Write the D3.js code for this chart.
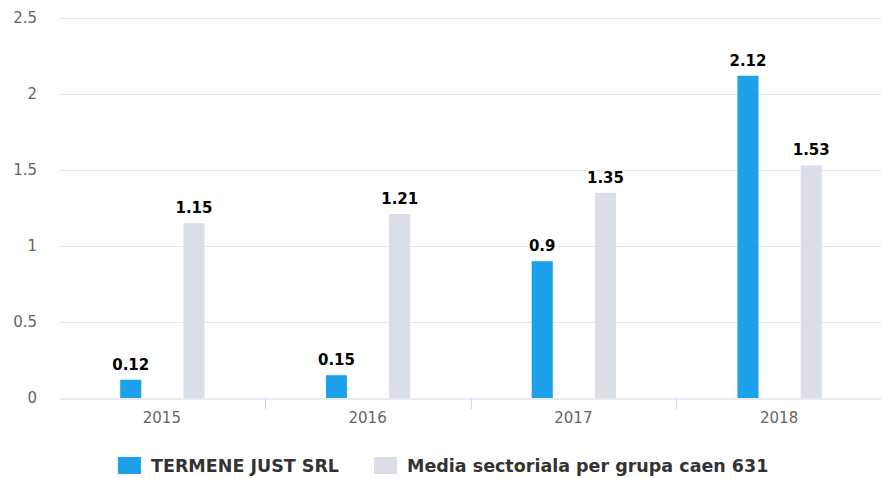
<!DOCTYPE html>
<html>
<head>
<meta charset="utf-8">
<script src="https://cdn.jsdelivr.net/npm/d3@7"></script>
<style>
  body { margin: 0; background: #fff; }
  text { font-family: "DejaVu Sans", sans-serif; }
</style>
</head>
<body>
<div id="chart"></div>
<script>
const years = ["2015", "2016", "2017", "2018"];
const seriesNames = ["TERMENE JUST SRL", "Media sectoriala per grupa caen 631"];
const companyValues = [0.12, 0.15, 0.9, 2.12];
const sectorValues = [1.15, 1.21, 1.35, 1.53];
const yTicks = [0, 0.5, 1, 1.5, 2, 2.5];
const colors = ["#1ca1ea", "#d9dee7"];

const width = 881, height = 478;
const plotLeft = 59, plotRight = 882, plotTop = 18, plotBottom = 398;

const svg = d3.select("#chart").append("svg")
  .attr("width", width)
  .attr("height", height);

const y = d3.scaleLinear().domain([0, 2.5]).range([plotBottom, plotTop]);
const x = d3.scaleBand().domain(years).range([plotLeft, plotRight]).padding(0);

// band for the two series inside one year, 21px bars ~63px apart
const x1 = d3.scaleBand().domain(seriesNames)
  .range([61.2, 145.5]).paddingInner(2 / 3).paddingOuter(0);

// grid lines
svg.append("g")
  .selectAll("line")
  .data(yTicks.filter(d => d > 0))
  .enter().append("line")
  .attr("x1", plotLeft).attr("x2", plotRight)
  .attr("y1", d => Math.round(y(d)) + 0.5)
  .attr("y2", d => Math.round(y(d)) + 0.5)
  .attr("stroke", "#e6e6e6");

// y axis labels
svg.append("g")
  .selectAll("text")
  .data(yTicks)
  .enter().append("text")
  .attr("x", 37)
  .attr("y", d => y(d) + 5)
  .attr("text-anchor", "end")
  .attr("fill", "#666")
  .style("font-size", "15px")
  .text(d => d);

// x axis
const xAxis = svg.append("g")
  .attr("transform", "translate(0," + (plotBottom + 0.5) + ")")
  .call(d3.axisBottom(x).tickSize(0).tickPadding(14));
xAxis.select(".domain").attr("stroke", "#ccd6eb");
xAxis.selectAll("text")
  .attr("fill", "#666")
  .style("font-size", "15px")
  .style("font-family", "DejaVu Sans, sans-serif");

// category separator ticks
svg.append("g")
  .selectAll("line")
  .data(years.slice(1))
  .enter().append("line")
  .attr("x1", d => Math.round(x(d)) + 0.5)
  .attr("x2", d => Math.round(x(d)) + 0.5)
  .attr("y1", plotBottom)
  .attr("y2", plotBottom + 11)
  .attr("stroke", "#ccd6eb");

// bars
const seriesData = [companyValues, sectorValues];
seriesData.forEach((vals, i) => {
  const g = svg.append("g");
  g.selectAll("rect")
    .data(vals)
    .enter().append("rect")
    .attr("x", (d, j) => x(years[j]) + x1(seriesNames[i]))
    .attr("y", d => y(d))
    .attr("width", x1.bandwidth())
    .attr("height", d => y(0) - y(d))
    .attr("fill", colors[i]);

  g.selectAll("text")
    .data(vals)
    .enter().append("text")
    .attr("x", (d, j) => x(years[j]) + x1(seriesNames[i]) + x1.bandwidth() / 2)
    .attr("y", d => y(d) - 10)
    .attr("text-anchor", "middle")
    .attr("fill", "#000")
    .attr("stroke", "#fff")
    .attr("stroke-width", 3)
    .attr("paint-order", "stroke")
    .style("font-size", "15px")
    .style("font-weight", "bold")
    .text(d => d);
});

// legend
const legend = svg.append("g").attr("transform", "translate(0,457)");
const legendX = [118, 374];
seriesNames.forEach((name, i) => {
  legend.append("rect")
    .attr("x", legendX[i]).attr("y", 0)
    .attr("width", 23).attr("height", 17)
    .attr("fill", colors[i]);
  legend.append("text")
    .attr("x", legendX[i] + 33)
    .attr("y", 15)
    .attr("fill", "#333")
    .style("font-size", "17.5px")
    .style("font-weight", "bold")
    .text(name);
});
</script>
</body>
</html>
